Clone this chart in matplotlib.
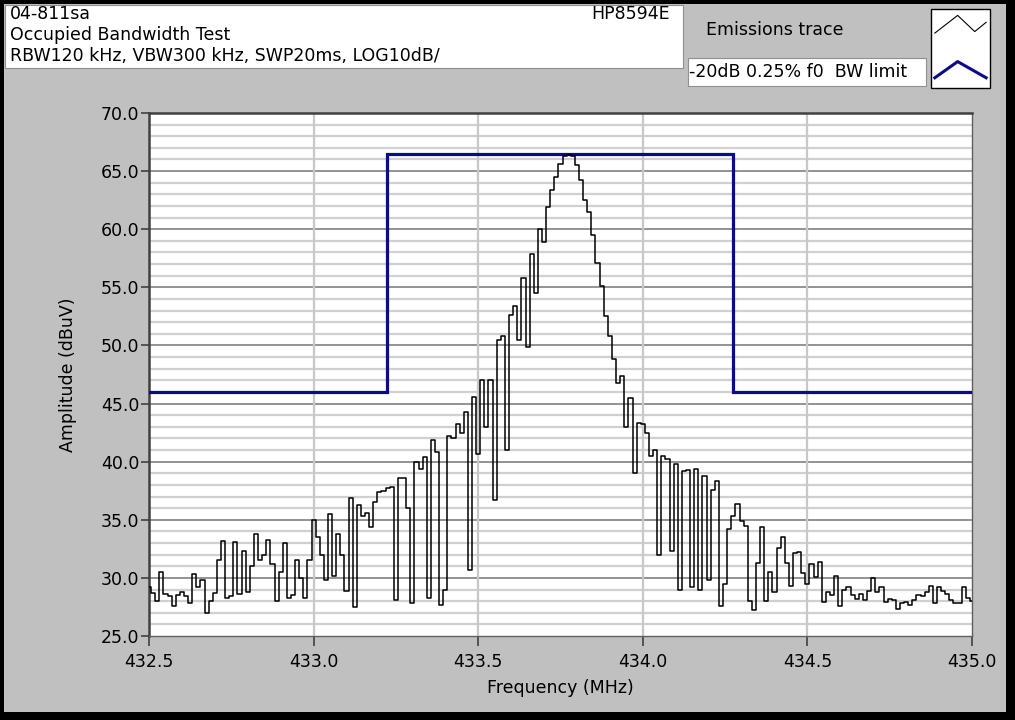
import numpy as np
import matplotlib
matplotlib.use("Agg")
import matplotlib.pyplot as plt
from matplotlib.patches import Rectangle
from matplotlib.lines import Line2D

# ---------------------------------------------------------------------------
# Data
# ---------------------------------------------------------------------------

freq_start = 432.5   # MHz
freq_stop = 435.0    # MHz

# Emissions trace, dBuV, one value per sweep bin (201 bins)
trace_dbuv = [
    29.2, 28.7, 28.0, 30.5, 28.6, 28.4, 27.6, 28.5, 28.8, 28.4,
    27.8, 30.3, 29.2, 29.8, 27.0, 28.0, 28.7, 31.5, 33.2, 28.3,
    28.4, 33.1, 28.6, 32.3, 28.8, 31.0, 33.8, 31.5, 32.0, 33.3,
    31.2, 28.0, 30.5, 33.0, 28.3,
    28.5, 31.5, 30.0, 28.3, 31.5, 35.0, 33.5, 32.0, 29.8, 35.5,
    30.2, 33.8, 32.0, 28.9, 36.9, 27.5, 36.3, 35.3, 35.6, 34.4,
    36.5, 37.4, 37.5, 37.7, 37.8, 28.1, 38.6, 38.6, 36.0, 27.8,
    40.0, 39.4, 40.4, 28.3,
    41.9, 40.8, 27.7, 29.0, 42.2, 42.0, 43.2, 42.5, 44.3, 30.7,
    45.6, 40.7, 47.0, 43.0, 47.0, 36.7, 50.5, 50.8, 41.0, 52.6,
    53.4, 50.5, 55.8, 49.9, 57.9, 54.5, 60.0, 58.9, 61.9, 63.4,
    64.5, 65.6, 66.3,
    66.4, 66.3, 65.5, 64.2, 62.5, 61.5, 59.5, 57.1, 55.1, 52.5,
    50.8, 48.8, 46.8, 47.4, 43.0, 45.5, 39.0, 43.3, 43.2, 42.5,
    40.5, 41.0, 32.0, 40.5, 40.2, 32.3, 39.8, 29.0, 39.2, 39.3,
    29.2, 39.4, 29.0, 38.8,
    29.8, 37.6, 38.3, 27.6, 29.5, 34.2, 35.3, 36.4, 34.9, 34.5,
    28.0, 27.2, 31.3, 34.4, 28.0, 30.5, 28.8, 32.6, 33.5, 31.3,
    29.3, 32.1, 32.2, 30.4, 29.5, 31.2, 30.1, 31.4, 27.9, 28.8,
    28.5, 30.2, 27.6, 29.0,
    29.2, 28.5, 28.2, 28.6, 28.1, 28.9, 30.0, 28.8, 29.2, 27.9,
    28.2, 28.1, 27.3, 27.8, 27.9, 27.7, 28.1, 28.5, 28.4, 28.8,
    29.3, 27.8, 29.2, 28.9, 28.6, 28.1, 27.8, 27.8, 29.2, 28.3,
    28.0,
]

# -20 dB / 0.25 % f0 bandwidth limit mask
limit_edges = [433.223, 434.274]   # MHz
limit_low = 46.0                   # dBuV outside the band
limit_high = 66.5                  # dBuV inside the band

y_ticks = [25.0, 30.0, 35.0, 40.0, 45.0, 50.0, 55.0, 60.0, 65.0, 70.0]
x_ticks = [432.5, 433.0, 433.5, 434.0, 434.5, 435.0]

header_lines = ["04-811sa", "Occupied Bandwidth Test",
                "RBW120 kHz, VBW300 kHz, SWP20ms, LOG10dB/"]
instrument = "HP8594E"
legend_labels = ["Emissions trace", "-20dB 0.25% f0  BW limit"]

# ---------------------------------------------------------------------------
# Figure / panel layout (pixel helpers)
# ---------------------------------------------------------------------------

W, H = 1015, 720
PANEL = "#c0c0c0"
NAVY = "#0c0c8a"
FS = 12.5

fig = plt.figure(figsize=(W / 100, H / 100), dpi=100)
fig.patch.set_facecolor("black")


def box(x0, y0, x1, y1, fc, ec="none", lw=0, z=-10):
    fig.patches.append(Rectangle((x0 / W, 1 - y1 / H), (x1 - x0) / W, (y1 - y0) / H,
                                 transform=fig.transFigure, facecolor=fc,
                                 edgecolor=ec, linewidth=lw, zorder=z))


def text(x, y, s, **kw):
    fig.text(x / W, 1 - y / H, s, fontsize=FS, family="DejaVu Sans", **kw)


box(4, 4, 1006, 712, PANEL, z=-20)
box(5, 5, 683, 68, "white", ec="#909090", lw=0.8)

text(10, 14, header_lines[0], va="center")
text(10, 35, header_lines[1], va="center")
text(10, 56, header_lines[2], va="center")
text(670, 14, instrument, va="center", ha="right")

# legend block
text(706, 30, legend_labels[0], va="center")
box(688, 58, 926, 86, "white", ec="#909090", lw=0.8)
text(689, 72, legend_labels[1], va="center")
box(931, 9, 990, 88, "white", ec="black", lw=1.0)
leg = fig.add_axes([932 / W, 1 - 87 / H, 57 / W, 77 / H])
leg.set_xlim(0, 1)
leg.set_ylim(0, 1)
leg.axis("off")
leg.add_line(Line2D([0.05, 0.45, 0.75, 0.95], [0.70, 0.93, 0.72, 0.84],
                    color="black", linewidth=0.8))
leg.add_line(Line2D([0.05, 0.45, 0.95], [0.12, 0.33, 0.12],
                    color=NAVY, linewidth=2.2))

# ---------------------------------------------------------------------------
# Graph
# ---------------------------------------------------------------------------

ax = fig.add_axes([149 / W, 1 - 636 / H, (972 - 149) / W, (636 - 113) / H])
ax.set_facecolor("white")

freqs = np.linspace(freq_start, freq_stop, len(trace_dbuv))

# grid: light every 1 dB, dark every 5 dB, light vertical every 0.5 MHz
for lvl in np.arange(26.0, 70.0, 1.0):
    major = abs(lvl % 5.0) < 1e-6
    ax.axhline(lvl, color="#808080" if major else "#d0d0d0",
               linewidth=1.2 if major else 1.6, zorder=1)
for f in x_ticks[1:-1]:
    ax.axvline(f, color="#c8c8c8", linewidth=1.6, zorder=1)

limit_x = [freq_start, limit_edges[0], limit_edges[0],
           limit_edges[1], limit_edges[1], freq_stop]
limit_y = [limit_low, limit_low, limit_high, limit_high, limit_low, limit_low]
ax.plot(limit_x, limit_y, color=NAVY, linewidth=2.3, zorder=3,
        solid_joinstyle="miter")

ax.plot(freqs, trace_dbuv, color="black", linewidth=1.1,
        drawstyle="steps-mid", zorder=4)

ax.set_xlim(freq_start, freq_stop)
ax.set_ylim(25.0, 70.0)
ax.set_xticks(x_ticks)
ax.set_xticklabels([f"{v:.1f}" for v in x_ticks])
ax.set_yticks(y_ticks)
ax.set_yticklabels([f"{v:.1f}" for v in y_ticks])
ax.tick_params(axis="x", direction="out", length=7, width=1.2, color="#404040",
               labelsize=FS, pad=5)
ax.tick_params(axis="y", direction="out", length=6, width=1.2, color="#404040",
               labelsize=FS, pad=1)

for side in ("top", "left"):
    ax.spines[side].set_color("#404040")
    ax.spines[side].set_linewidth(1.8)
for side in ("bottom", "right"):
    ax.spines[side].set_color("#606060")
    ax.spines[side].set_linewidth(1.0)

ax.set_xlabel("Frequency (MHz)", fontsize=FS, labelpad=6)
ax.set_ylabel("Amplitude (dBuV)", fontsize=FS, labelpad=17)

fig.savefig("out.png", dpi=100, facecolor=fig.get_facecolor())
